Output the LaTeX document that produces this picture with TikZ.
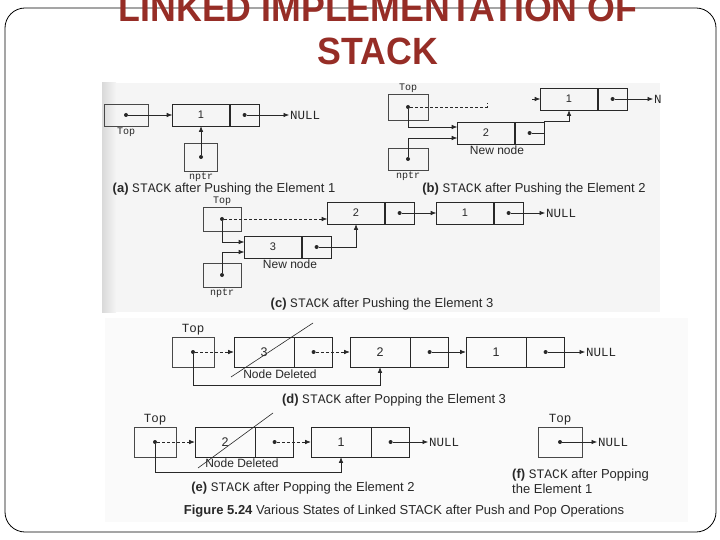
\documentclass[tikz,border=0pt]{standalone}
\usepackage{fontspec}
\setmainfont{Liberation Sans}
\setmonofont{Liberation Mono}
\usetikzlibrary{positioning,arrows.meta}
\definecolor{titlered}{RGB}{150,45,38}
\definecolor{ink}{RGB}{40,40,40}

\begin{document}
\begin{tikzpicture}[x=1pt, y=-1pt,
  cell/.style={draw=ink, line width=0.6pt, inner sep=0pt, minimum height=22pt,
    text=ink, font=\fontsize{11}{11}\selectfont},
  data/.style={cell, minimum width=57pt},
  link/.style={cell, minimum width=29pt},
  big/.style={minimum height=30pt},
  bigdata/.style={cell, big, minimum width=60pt, font=\fontsize{12.5}{12.5}\selectfont},
  biglink/.style={cell, big, minimum width=38pt},
  ptrbox/.style={draw=ink!85, line width=0.6pt, inner sep=0pt},
  dot/.style={circle, fill=ink, inner sep=0pt, minimum size=4pt},
  ptr/.style={-{Latex[length=5.5pt,width=4.5pt]}, draw=ink, line width=0.6pt},
  old/.style={ptr, dash pattern=on 3pt off 2pt},
  tt/.style={font=\ttfamily\fontsize{12.5}{12.5}\selectfont, text=ink, inner sep=1pt},
  ttsmall/.style={tt, font=\ttfamily\fontsize{10}{10}\selectfont},
  lbl/.style={font=\fontsize{12}{12}\selectfont, text=ink, inner sep=1pt},
  captxt/.style={font=\fontsize{13}{15}\selectfont, text=ink, inner sep=0pt},
  titletxt/.style={font=\bfseries\fontsize{38}{38}\selectfont, text=titlered, inner sep=0pt}]
\useasboundingbox (0,0) rectangle (720,540);

% slide
\fill[gray!8] (102,83) rectangle (660,312);
\fill[left color=gray!30, right color=gray!8] (102,83) rectangle (116,312);
\fill[gray!4] (105,318) rectangle (688,522);
\draw[line width=0.8pt, rounded corners=20pt] (5,8) rectangle (716,532);
\node[titletxt, anchor=base] (title1) at (378,22) {\scalebox{0.94}[1]{LINKED IMPLEMENTATION OF}};
\node[titletxt, anchor=base] (title2) at (378,65) {\scalebox{0.94}[1]{STACK}};

\begin{scope}
\clip (102,83) rectangle (660,312);
% (a) push 1
\node[ptrbox, minimum width=44pt, minimum height=22pt] (atop) at (126,115) {};
\node[dot] (atopd) at (atop) {};
\node[ttsmall, below=0pt of atop] (atoplbl) {Top};
\node[data] (a1) at (201,115) {1};
\node[link, right=0pt of a1] (a1l) {};
\node[dot] (a1d) at (a1l) {};
\node[tt, anchor=west] (anull) at (289,115) {NULL};
\node[ptrbox, minimum width=33pt, minimum height=28pt] (anptr) at (201,157) {};
\node[dot] (anptrd) at (anptr) {};
\node[ttsmall, below=0pt of anptr] (anptrlbl) {nptr};
\draw[ptr] (atopd) -- (a1);
\draw[ptr] (a1d) -- (anull);
\draw[ptr] (anptrd) -- (a1);
\node[captxt] (acap) at (224,189) {\textbf{(a)} \texttt{STACK} after Pushing the Element 1};

% (b) push 2
\node[ptrbox, minimum width=40pt, minimum height=26pt] (btop) at (408,107) {};
\node[dot] (btopd) at (btop) {};
\node[ttsmall, above=0pt of btop] (btoplbl) {Top};
\node[data] (b1) at (569,99) {1};
\node[link, right=0pt of b1] (b1l) {};
\node[dot] (b1d) at (b1l) {};
\node[tt, anchor=west] (bnull) at (653,99) {NULL};
\node[data] (b2) at (486,133) {2};
\node[link, right=0pt of b2] (b2l) {};
\node[dot] (b2d) at (b2l) {};
\node[lbl] (bnew) at (497,150) {New node};
\node[ptrbox, minimum width=40pt, minimum height=22pt] (bnptr) at (408,159) {};
\node[dot] (bnptrd) at (bnptr) {};
\node[ttsmall, below=0pt of bnptr] (bnptrlbl) {nptr};
\coordinate (bend) at (487,107);
\coordinate (bstub) at (532,99);
\draw[draw=ink, line width=0.6pt, dash pattern=on 3pt off 2pt] (btopd) -- (bend) -- ++(0,-4);
\draw[ptr] (bstub) -- (b1);
\draw[ptr] (btopd) |- ([yshift=6pt]b2.west);
\draw[ptr] (bnptrd) |- ([yshift=-5pt]b2.west);
\draw[ptr] (b1d) -- (bnull);
\draw[ptr] (b2d) -- (b2d -| b2l.east) -- (b2l.north east) -| (b1.south);
\node[captxt] (bcap) at (534,189) {\textbf{(b)} \texttt{STACK} after Pushing the Element 2};

% (c) push 3
\node[ptrbox, minimum width=38pt, minimum height=24pt] (ctop) at (222,219) {};
\node[dot] (ctopd) at (ctop) {};
\node[ttsmall, above=0pt of ctop] (ctoplbl) {Top};
\node[data] (c2) at (356,213) {2};
\node[link, right=0pt of c2] (c2l) {};
\node[dot] (c2d) at (c2l) {};
\node[data] (c1) at (465,213) {1};
\node[link, right=0pt of c1] (c1l) {};
\node[dot] (c1d) at (c1l) {};
\node[tt, anchor=west] (cnull) at (545,213) {NULL};
\node[data] (c3) at (273,247) {3};
\node[link, right=0pt of c3] (c3l) {};
\node[dot] (c3d) at (c3l) {};
\node[lbl] (cnew) at (290,264) {New node};
\node[ptrbox, minimum width=38pt, minimum height=24pt] (cnptr) at (222,275) {};
\node[dot] (cnptrd) at (cnptr) {};
\node[ttsmall, below=0pt of cnptr] (cnptrlbl) {nptr};
\draw[old] (ctopd) -- (ctopd -| c2.west);
\draw[ptr] (c2d) -- (c2d -| c1.west);
\draw[ptr] (c1d) -- (cnull);
\draw[ptr] (c3d) -| (c2.south);
\draw[ptr] (ctopd) |- ([yshift=5pt]c3.west);
\draw[ptr] (cnptrd) |- ([yshift=-5pt]c3.west);
\node[captxt] (ccap) at (382,304) {\textbf{(c)} \texttt{STACK} after Pushing the Element 3};
\end{scope}

% (d) pop 3
\node[ptrbox, big, minimum width=42pt] (dtop) at (193,352) {};
\node[dot] (dtopd) at (dtop) {};
\node[tt, above=0pt of dtop] (dtoplbl) {Top};
\node[bigdata] (d3) at (264,352) {3};
\node[biglink, right=0pt of d3] (d3l) {};
\node[dot] (d3d) at (d3l) {};
\node[bigdata] (d2) at (380,352) {2};
\node[biglink, right=0pt of d2] (d2l) {};
\node[dot] (d2d) at (d2l) {};
\node[bigdata] (d1) at (496,352) {1};
\node[biglink, right=0pt of d1] (d1l) {};
\node[dot] (d1d) at (d1l) {};
\node[tt, anchor=west] (dnull) at (585,352) {NULL};
\draw[ink, line width=0.6pt] (231,377) -- (313,323);
\node[lbl] (ddel) at (280,374) {Node Deleted};
\draw[old] (dtopd) -- (d3);
\draw[old] (d3d) -- (d2);
\draw[ptr] (d2d) -- (d1);
\draw[ptr] (d1d) -- (dnull);
\draw[ptr] (dtopd) -- ++(0,33) -| (d2.south);
\node[captxt] (dcap) at (394,400) {\textbf{(d)} \texttt{STACK} after Popping the Element 3};

% (e) pop 2
\node[ptrbox, big, minimum width=42pt] (etop) at (155,442) {};
\node[dot] (etopd) at (etop) {};
\node[tt, above=0pt of etop] (etoplbl) {Top};
\node[bigdata] (e2) at (225,442) {2};
\node[biglink, right=0pt of e2] (e2l) {};
\node[dot] (e2d) at (e2l) {};
\node[bigdata] (e1) at (341,442) {1};
\node[biglink, right=0pt of e1] (e1l) {};
\node[dot] (e1d) at (e1l) {};
\node[tt, anchor=west] (enull) at (428,442) {NULL};
\draw[ink, line width=0.6pt] (198,468) -- (273,413);
\node[lbl] (edel) at (242,463) {Node Deleted};
\draw[old] (etopd) -- (e2);
\draw[old] (e2d) -- (e1);
\draw[ptr] (e1d) -- (enull);
\draw[ptr] (etopd) -- ++(0,30) -| (e1.south);
\node[captxt] (ecap) at (303,488) {\textbf{(e)} \texttt{STACK} after Popping the Element 2};

% (f) pop 1
\node[ptrbox, big, minimum width=44pt] (ftop) at (560,442) {};
\node[dot] (ftopd) at (ftop) {};
\node[tt, above=0pt of ftop] (ftoplbl) {Top};
\node[tt, anchor=west] (fnull) at (597,442) {NULL};
\draw[ptr] (ftopd) -- (fnull);
\node[captxt, anchor=west, align=left] (fcap) at (512,481) {\textbf{(f)} \texttt{STACK} after Popping\\the Element 1};

\node[captxt] (figcap) at (404,511) {\textbf{Figure 5.24} Various States of Linked STACK after Push and Pop Operations};
\end{tikzpicture}
\end{document}
